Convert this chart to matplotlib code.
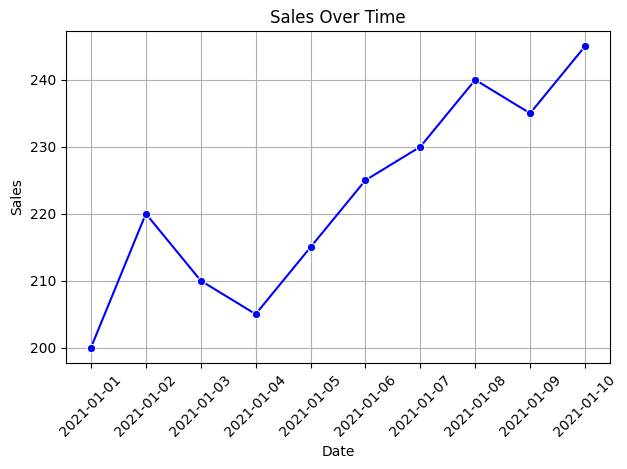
import matplotlib
matplotlib.use("Agg")
import matplotlib.pyplot as plt
import pandas as pd

# data
dates = ["2021-01-01", "2021-01-02", "2021-01-03", "2021-01-04", "2021-01-05",
         "2021-01-06", "2021-01-07", "2021-01-08", "2021-01-09", "2021-01-10"]
sales = [200, 220, 210, 205, 215, 225, 230, 240, 235, 245]

df = pd.DataFrame({"Date": pd.to_datetime(dates), "Sales": sales})

fig, ax = plt.subplots(figsize=(6.27, 4.69), dpi=100)
ax.plot(df["Date"], df["Sales"], color="blue", marker="o", markersize=6,
        markeredgecolor="white", markeredgewidth=0.75)
ax.set_xticks(df["Date"])
ax.set_xticklabels(dates, rotation=45)
ax.set_title("Sales Over Time")
ax.set_xlabel("Date")
ax.set_ylabel("Sales")
ax.grid(True)
fig.subplots_adjust(left=0.1057, right=0.9724, top=0.9333, bottom=0.2267)
fig.savefig("out.png", dpi=100)
